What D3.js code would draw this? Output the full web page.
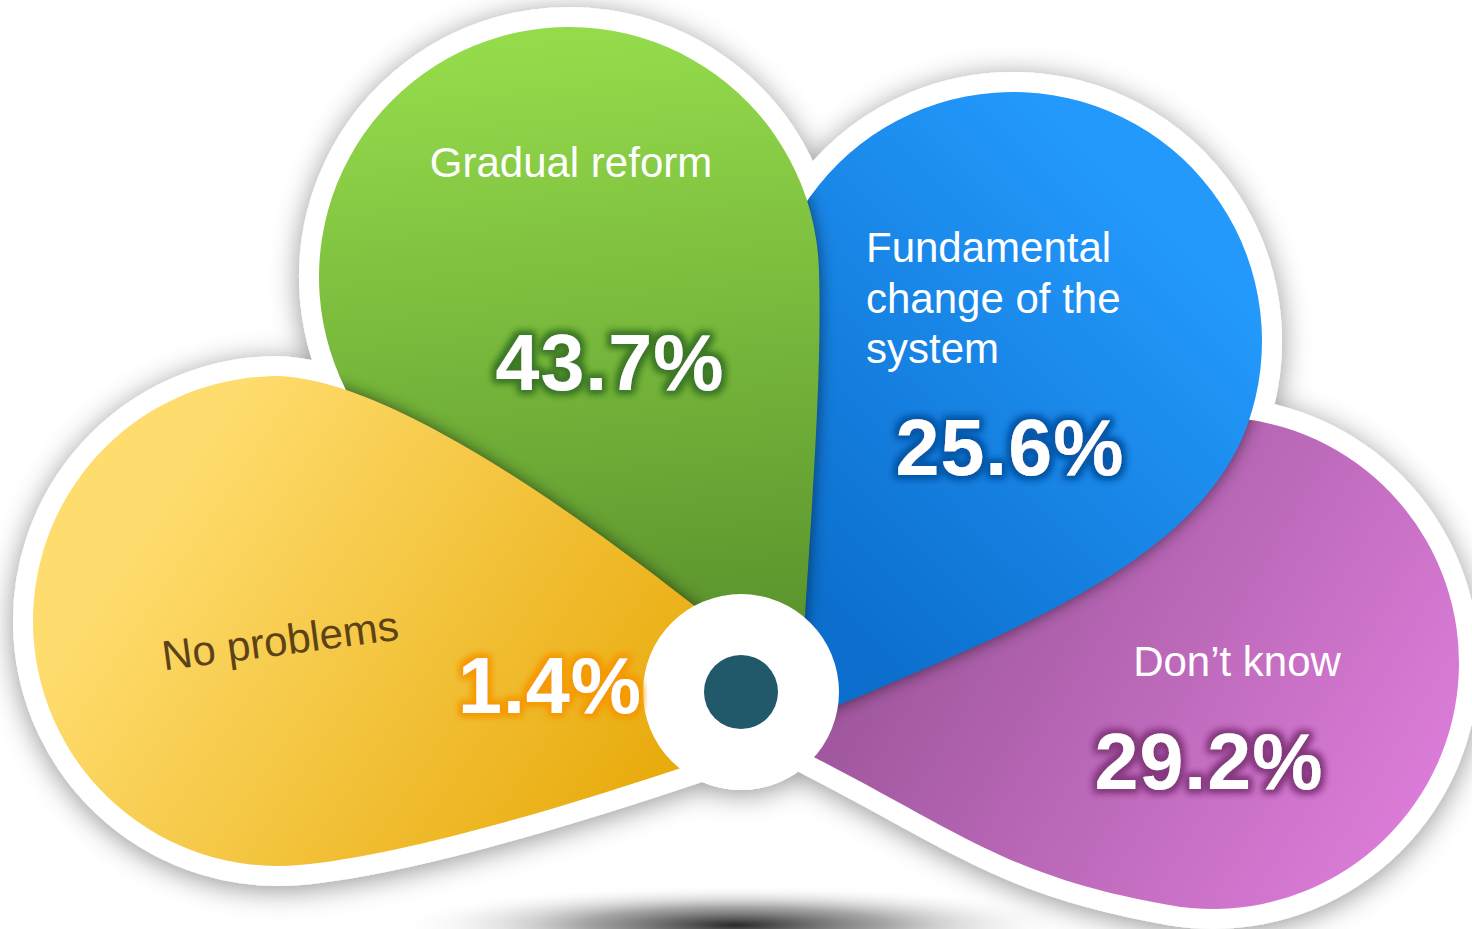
<!DOCTYPE html>
<html>
<head>
<meta charset="utf-8">
<script src="https://cdn.jsdelivr.net/npm/d3@7"></script>
<style>
  body { margin: 0; background: #fff; }
  svg { display: block; }
</style>
</head>
<body>
<div id="chart-area"></div>
<script>
const svgWidth = 1472, svgHeight = 929;

// data (listed in drawing order, back to front)
const categories = ["Don’t know", "Fundamental change of the system", "Gradual reform", "No problems"];
const labelLines = [["Don’t know"], ["Fundamental", "change of the", "system"], ["Gradual reform"], ["No problems"]];
const values = [29.2, 25.6, 43.7, 1.4];

// colours
const gradFrom = ["#9b5499", "#0c6fcd", "#94db4b", "#fedc6d"];
const gradTo = ["#df7fdc", "#2399fc", "#5a922c", "#e8aa0b"];
const glowColors = ["#86397f", "#0857a8", "#3c7826", "#f59a00"];
const nameColors = ["#ffffff", "#ffffff", "#ffffff", "#5d4217"];

// layout
const hub = { x: 741, y: 692, r: 98, dot: 37 };
const petals = [
  { cx: 1213, cy: 663, r: 246, a1: 200, a2: 460, tip: [760, 730], t1: 326, k1: 120, t2: 26, k2: 220, h1: 100, h2: 180,
    grad: [880, 560, 1420, 880] },
  { cx: 1013, cy: 341, r: 249, a1: 165, a2: 380, tip: [770, 735], t1: 272, k1: 150, t2: 336, k2: 220, h1: 100, h2: 160,
    grad: [840, 620, 1200, 260] },
  { cx: 569, cy: 277, r: 250, a1: 150, a2: 358, tip: [800, 700], t1: 214, k1: 150, t2: 273, k2: 150, h1: 100, h2: 120,
    grad: [600, 40, 660, 650] },
  { cx: 278, cy: 621, r: 245, a1: 85, a2: 268, tip: [830, 716], t1: 160, k1: 210, t2: 220, k2: 190, h1: 120, h2: 140,
    grad: [180, 480, 660, 800] }
];
const nameSpots = [
  { x: 1237, y: 676, anchor: "middle", rot: 0 },
  { x: 866, y: 262, anchor: "start", rot: 0 },
  { x: 571, y: 177, anchor: "middle", rot: 0 },
  { x: 282, y: 655, anchor: "middle", rot: -7.5 }
];
const valueSpots = [[1209, 789], [1010, 475], [610, 390], [550, 713]];

const rad = d => d * Math.PI / 180;
const fmt = d => d3.format(".1f")(d) + "%";

function petalPath(p) {
  const P1 = [p.cx + p.r * Math.cos(rad(p.a1)), p.cy + p.r * Math.sin(rad(p.a1))];
  const P2 = [p.cx + p.r * Math.cos(rad(p.a2)), p.cy + p.r * Math.sin(rad(p.a2))];
  const c1 = [p.tip[0] + p.k1 * Math.cos(rad(p.t1)), p.tip[1] + p.k1 * Math.sin(rad(p.t1))];
  const c2 = [P1[0] + p.h1 * Math.sin(rad(p.a1)), P1[1] - p.h1 * Math.cos(rad(p.a1))];
  const c3 = [P2[0] - p.h2 * Math.sin(rad(p.a2)), P2[1] + p.h2 * Math.cos(rad(p.a2))];
  const c4 = [p.tip[0] + p.k2 * Math.cos(rad(p.t2)), p.tip[1] + p.k2 * Math.sin(rad(p.t2))];
  const path = d3.path();
  path.moveTo(p.tip[0], p.tip[1]);
  path.bezierCurveTo(c1[0], c1[1], c2[0], c2[1], P1[0], P1[1]);
  path.arc(p.cx, p.cy, p.r, rad(p.a1), rad(p.a2), false);
  path.bezierCurveTo(c3[0], c3[1], c4[0], c4[1], p.tip[0], p.tip[1]);
  path.closePath();
  return path.toString();
}

const svg = d3.select("#chart-area")
  .append("svg")
    .attr("width", svgWidth)
    .attr("height", svgHeight);

const defs = svg.append("defs");

// soft halo around the white frame
const halo = defs.append("filter").attr("id", "halo")
  .attr("x", "-10%").attr("y", "-10%").attr("width", "120%").attr("height", "130%");
halo.append("feDropShadow")
  .attr("dx", 0).attr("dy", 4).attr("stdDeviation", 14)
  .attr("flood-color", "#000").attr("flood-opacity", 0.42);

const blur = defs.append("filter").attr("id", "blur")
  .attr("x", "-20%").attr("y", "-20%").attr("width", "140%").attr("height", "140%");
blur.append("feGaussianBlur").attr("stdDeviation", 8);

const floor = defs.append("radialGradient").attr("id", "floor");
floor.append("stop").attr("offset", "0%").attr("stop-color", "#2a2a2a").attr("stop-opacity", 1);
floor.append("stop").attr("offset", "45%").attr("stop-color", "#8a8a8a").attr("stop-opacity", 0.75);
floor.append("stop").attr("offset", "100%").attr("stop-color", "#ffffff").attr("stop-opacity", 0);

petals.forEach((p, i) => {
  const g = defs.append("linearGradient").attr("id", "grad" + i)
    .attr("gradientUnits", "userSpaceOnUse")
    .attr("x1", p.grad[0]).attr("y1", p.grad[1]).attr("x2", p.grad[2]).attr("y2", p.grad[3]);
  g.append("stop").attr("offset", "0%").attr("stop-color", gradFrom[i]);
  g.append("stop").attr("offset", "100%").attr("stop-color", gradTo[i]);

  const f = defs.append("filter").attr("id", "glow" + i)
    .attr("x", "-20%").attr("y", "-40%").attr("width", "140%").attr("height", "180%");
  f.append("feMorphology").attr("in", "SourceAlpha").attr("operator", "dilate").attr("radius", 2.5).attr("result", "d");
  f.append("feGaussianBlur").attr("in", "d").attr("stdDeviation", 3.5).attr("result", "b");
  f.append("feFlood").attr("flood-color", glowColors[i]);
  f.append("feComposite").attr("in2", "b").attr("operator", "in").attr("result", "g");
  const m = f.append("feMerge");
  m.append("feMergeNode").attr("in", "g");
  m.append("feMergeNode").attr("in", "g");
  m.append("feMergeNode").attr("in", "SourceGraphic");

  // clip for the shadow a petal throws on the petals behind it
  if (i > 0) {
    const cp = defs.append("clipPath").attr("id", "under" + i);
    petals.slice(0, i).forEach(q => cp.append("path").attr("d", petalPath(q)));
  }
});

// floor shadow
svg.append("ellipse")
  .attr("cx", 735).attr("cy", 925)
  .attr("rx", 340).attr("ry", 40)
  .attr("fill", "url(#floor)");

// white frame
const frame = svg.append("g").attr("filter", "url(#halo)");
frame.selectAll("path")
  .data(petals)
  .enter()
  .append("path")
    .attr("d", petalPath)
    .attr("fill", "#fff")
    .attr("stroke", "#fff")
    .attr("stroke-width", 40)
    .attr("stroke-linejoin", "round");
frame.append("circle")
  .attr("cx", hub.x).attr("cy", hub.y).attr("r", hub.r)
  .attr("fill", "#fff");

// petals
petals.forEach((p, i) => {
  if (i > 0) {
    svg.append("g")
      .attr("clip-path", `url(#under${i})`)
      .append("path")
        .attr("d", petalPath(p))
        .attr("fill", "#000")
        .attr("opacity", 0.55)
        .attr("filter", "url(#blur)");
  }
  svg.append("path")
    .attr("d", petalPath(p))
    .attr("fill", `url(#grad${i})`);
});

// hub
svg.append("circle")
  .attr("cx", hub.x).attr("cy", hub.y).attr("r", hub.r)
  .attr("fill", "#fff");
svg.append("circle")
  .attr("cx", hub.x).attr("cy", hub.y).attr("r", hub.dot)
  .attr("fill", "#21586a");

// category names
categories.forEach((c, i) => {
  const s = nameSpots[i];
  const t = svg.append("text")
    .attr("transform", `translate(${s.x},${s.y}) rotate(${s.rot})`)
    .attr("text-anchor", s.anchor)
    .attr("font-family", "Liberation Sans, Arial, sans-serif")
    .attr("font-size", 42)
    .attr("fill", nameColors[i]);
  labelLines[i].forEach((line, j) => {
    t.append("tspan")
      .attr("x", 0)
      .attr("dy", j === 0 ? 0 : 50.5)
      .text(line);
  });
});

// values
values.forEach((v, i) => {
  svg.append("text")
    .attr("x", valueSpots[i][0])
    .attr("y", valueSpots[i][1])
    .attr("text-anchor", "middle")
    .attr("font-family", "Liberation Sans, Arial, sans-serif")
    .attr("font-weight", 700)
    .attr("font-size", 79)
    .attr("letter-spacing", 1)
    .attr("fill", "#fff")
    .attr("filter", `url(#glow${i})`)
    .text(fmt(v));
});
</script>
</body>
</html>
